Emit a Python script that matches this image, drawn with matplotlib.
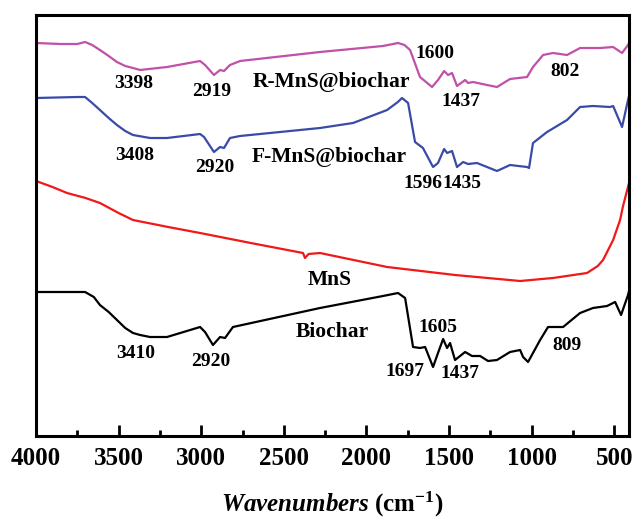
import numpy as np
import matplotlib
matplotlib.use('Agg')
import matplotlib.pyplot as plt
from matplotlib.ticker import MultipleLocator

plt.rcParams['font.family'] = 'Liberation Serif'
plt.rcParams['font.weight'] = 'bold'
plt.rcParams['mathtext.fontset'] = 'custom'
plt.rcParams['mathtext.rm'] = 'Liberation Serif:bold'
plt.rcParams['mathtext.bf'] = 'Liberation Serif:bold'
plt.rcParams['mathtext.it'] = 'Liberation Serif:italic:bold'

# R-MnS@biochar (magenta)
wn_r = [4000, 3850, 3750, 3703, 3660, 3613, 3560, 3510, 3460, 3413, 3370, 3207, 3007,
        2977, 2923, 2886, 2862, 2826, 2765, 2281, 1900, 1809, 1770, 1736, 1676, 1603,
        1567, 1530, 1506, 1482, 1452, 1403, 1385, 1355, 1270, 1210, 1131, 1028, 992,
        931, 871, 786, 707, 586, 507, 453, 417, 411]
t_r = [393, 392, 392, 394, 391, 386, 380, 374, 370, 368, 366, 369, 375,
       371, 361, 366, 365, 371, 375, 384, 390, 393, 391, 386, 359, 349,
       356, 365, 361, 363, 350, 356, 353, 354, 351, 349, 357, 359, 369,
       381, 383, 381, 388, 388, 389, 383, 391, 393]

# F-MnS@biochar (blue)
wn_f = [4000, 3750, 3703, 3660, 3613, 3560, 3510, 3460, 3413, 3310, 3207, 3007, 2983,
        2923, 2886, 2862, 2826, 2765, 2281, 2081, 1875, 1810, 1785, 1748, 1706, 1658,
        1597, 1567, 1530, 1512, 1482, 1452, 1415, 1385, 1331, 1210, 1131, 1028, 1016,
        992, 907, 786, 707, 629, 526, 507, 453, 417, 411]
t_f = [338, 339, 339, 333, 326, 318, 311, 305, 301, 298, 298, 302, 299,
       284, 289, 288, 298, 300, 308, 313, 326, 334, 338, 333, 294, 288,
       269, 273, 287, 283, 285, 269, 274, 272, 273, 265, 271, 269, 268,
       293, 304, 316, 329, 330, 329, 330, 309, 336, 340]

# MnS (red)
wn_m = [4000, 3900, 3812, 3700, 3613, 3500, 3413, 3200, 3007, 2700, 2384, 2372, 2350,
        2281, 1875, 1464, 1070, 871, 665, 600, 568, 507, 465, 447, 411]
t_m = [255, 249, 243, 238, 233, 223, 216, 209, 203, 193, 183, 178, 182,
       183, 169, 161, 155, 158, 163, 170, 176, 196, 216, 230, 253]

# Biochar (black)
wn_b = [4000, 3750, 3703, 3650, 3613, 3560, 3510, 3460, 3413, 3370, 3310, 3207, 3007,
        2977, 2929, 2886, 2856, 2808, 2281, 1900, 1809, 1766, 1718, 1676, 1645, 1597,
        1567, 1536, 1512, 1494, 1464, 1403, 1361, 1312, 1264, 1210, 1131, 1070, 1052,
        1022, 949, 901, 810, 707, 629, 544, 495, 459, 417, 411]
t_b = [144, 144, 144, 139, 131, 124, 116, 108, 103, 101, 99, 99, 109,
       104, 91, 99, 98, 109, 128, 140, 143, 138, 89, 88, 89, 69,
       83, 97, 88, 93, 76, 84, 80, 80, 75, 76, 84, 86, 79,
       74, 96, 109, 109, 123, 128, 130, 134, 121, 141, 145]

# peak labels: (text, wavenumber, y)
peak_labels = [('3398', 3407, 353), ('2919', 2935, 345), ('1600', 1585, 383),
               ('1437', 1428, 334), ('802', 798, 364),
               ('3408', 3401, 280), ('2920', 2917, 269), ('1596', 1658, 253),
               ('1435', 1421, 253),
               ('3410', 3395, 83), ('2920', 2941, 74), ('1605', 1567, 108),
               ('1697', 1766, 64), ('1437', 1434, 62), ('809', 786, 91)]
name_labels = [('R-MnS@biochar', 2214, 354), ('F-MnS@biochar', 2226, 279),
               ('MnS', 2220, 156), ('Biochar', 2208, 104)]

fig = plt.figure(figsize=(6.34, 5.19), dpi=100)
ax = fig.add_axes([36/634, 1-436/519, (629-36)/634, (436-15)/519])

ax.plot(wn_r, t_r, color='#c050a8', lw=1.6)
ax.plot(wn_f, t_f, color='#3a4aa8', lw=1.6)
ax.plot(wn_m, t_m, color='#f01818', lw=1.6)
ax.plot(wn_b, t_b, color='black', lw=1.6)

for s, x, y in peak_labels:
    ax.text(x, y, s, fontsize=14, fontweight='bold', ha='center', va='center')
for s, x, y in name_labels:
    ax.text(x, y, s, fontsize=15.5, fontweight='bold', ha='center', va='center')

ax.set_xlim(4000, 411)
ax.set_ylim(0, 421)
ax.set_yticks([])
ax.xaxis.set_major_locator(MultipleLocator(500))
ax.xaxis.set_minor_locator(MultipleLocator(250))
ax.tick_params(axis='x', which='major', direction='in', length=8, width=2,
               labelsize=18, pad=8)
ax.tick_params(axis='x', which='minor', direction='in', length=4, width=2)
for lab in ax.get_xticklabels():
    lab.set_fontweight('bold')
for sp in ax.spines.values():
    sp.set_linewidth(2.2)

ax.set_xlabel(r'$\mathit{Wavenumbers}$ (cm$^{-1}$)', fontsize=18,
              fontweight='bold', labelpad=14)

fig.savefig('out.png', dpi=100)
